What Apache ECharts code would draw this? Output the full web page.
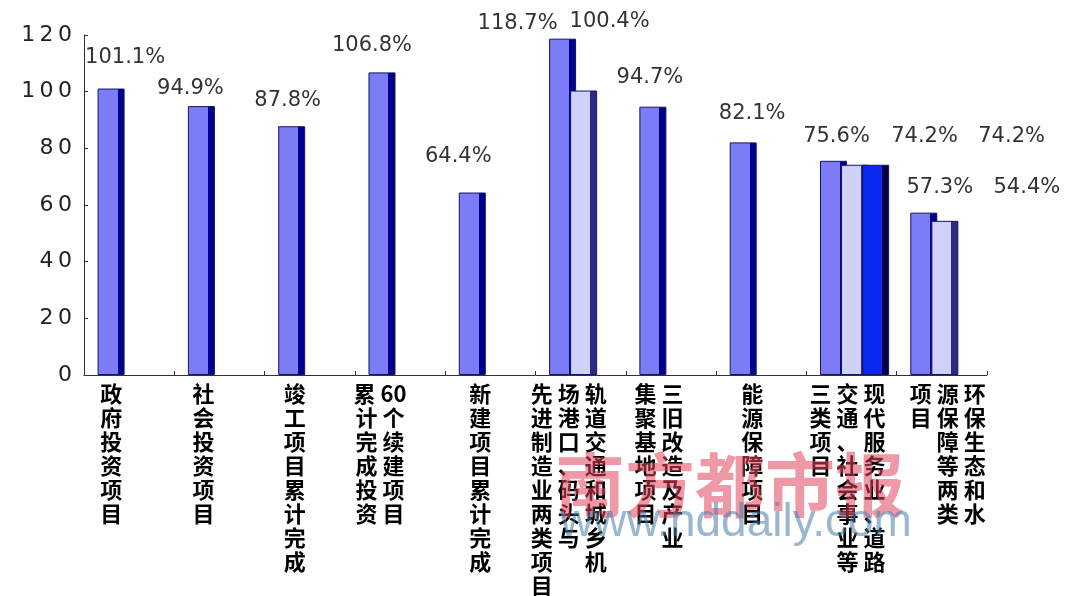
<!DOCTYPE html>
<html>
<head>
<meta charset="utf-8">
<script src="https://cdn.jsdelivr.net/npm/echarts@6/dist/echarts.min.js"></script>
<style>
html,body{margin:0;padding:0;background:#fff;}
#chart{width:1071px;height:596px;}
</style>
</head>
<body>
<div id="chart"></div>
<script>
// ---- data ----
// category label columns, displayed left to right (read right to left)
const categoryColumns = [
  ['政府投资项目'],
  ['社会投资项目'],
  ['竣工项目累计完成'],
  ['累计完成投资', '60个续建项目'],
  ['新建项目累计完成'],
  ['先进制造业两类项目', '场港口、码头与', '轨道交通和城乡机'],
  ['集聚基地项目', '三旧改造及产业'],
  ['能源保障项目'],
  ['三类项目', '交通、社会事业等', '现代服务业、道路'],
  ['项目', '源保障等两类', '环保生态和水']
];
const categories = categoryColumns.map(c => c.slice().reverse().join(''));
const seriesA = [101.1, 94.9, 87.8, 106.8, 64.4, 118.7, 94.7, 82.1, 75.6, 57.3];
const seriesB = [null, null, null, null, null, 100.4, null, null, 74.2, 54.4];
const seriesC = [null, null, null, null, null, null, null, null, 74.2, null];
const yTicks = [0, 20, 40, 60, 80, 100, 120];

// ---- layout ----
const labelShift = [-18, -16, -15, -20, -10, -12, -12, -9, -4, 6];
const offA = [[14,-16],[-11,-2],[-4,-10],[-10,-11],[-14,-20],[-45,0],[-3,-14],[9,-13],[3,-9],[16,-10]];
const offB = [null,null,null,null,null,[26,-53],null,null,[70,-13],[82,-18]];
const offC = [null,null,null,null,null,null,null,null,[136,-13],null];

function grad(front, side) {
  return new echarts.graphic.LinearGradient(0, 0, 1, 0, [
    {offset: 0, color: front}, {offset: 0.74, color: front},
    {offset: 0.74, color: side}, {offset: 1, color: side}
  ]);
}
function items(vals, offs) {
  return vals.map((v, i) => v == null ? null : {value: v, label: {offset: offs[i]}});
}
const rich = {};
labelShift.forEach((d, i) => {
  rich['c' + i] = {
    fontSize: 22, lineHeight: 24, color: '#000', fontWeight: 'bold',
    fontFamily: '"Noto Sans CJK SC", sans-serif',
    padding: d < 0 ? [0, -2 * d, 0, 0] : [0, 0, 0, 2 * d]
  };
});
function catLabel(value, index) {
  const cols = categoryColumns[index].map(s => s.match(/\d+|./gu));
  const n = Math.max(...cols.map(c => c.length));
  const lines = [];
  for (let j = 0; j < n; j++) {
    lines.push('{c' + index + '|' + cols.map(c => c[j] || '\u3000').join(' ') + '}');
  }
  return lines.join('\n');
}
const pctLabel = {
  show: true, position: 'top', distance: 5,
  formatter: p => p.value + '%',
  fontFamily: '"DejaVu Sans", sans-serif', fontSize: 21, color: '#333'
};
const barBase = {
  type: 'bar', xAxisIndex: 0, yAxisIndex: 0, barWidth: 27, barGap: '-22%',
  label: pctLabel
};

const chart = echarts.init(document.getElementById('chart'), null, {renderer: 'canvas'});
chart.setOption({
  backgroundColor: '#fff',
  animation: false,
  grid: [
    {left: 87, top: 35, width: 903, height: 340, outerBoundsMode: 'none', containLabel: false},
    {left: 84, top: 35, width: 903, height: 340, outerBoundsMode: 'none', containLabel: false}
  ],
  xAxis: [
    {type: 'category', gridIndex: 0, data: categories, show: false},
    {type: 'category', gridIndex: 1, data: categories,
     axisLine: {show: true, lineStyle: {color: '#333', width: 1}},
     axisTick: {show: true, inside: true, length: 4, lineStyle: {color: '#333'}},
     axisLabel: {show: true, interval: 0, margin: 7, formatter: catLabel, rich: rich,
                 fontSize: 22, lineHeight: 24, color: '#000', fontFamily: '"Noto Sans CJK SC", sans-serif'},
     splitLine: {show: false}}
  ],
  yAxis: [
    {type: 'value', gridIndex: 0, min: 0, max: 120, interval: 20, show: false},
    {type: 'value', gridIndex: 1, min: 0, max: 120, interval: 20,
     axisLine: {show: true, lineStyle: {color: '#333', width: 1}},
     axisTick: {show: true, inside: true, length: 4, lineStyle: {color: '#333'}},
     splitLine: {show: false},
     axisLabel: {margin: 12, fontSize: 22, color: '#222', fontFamily: '"DejaVu Sans", sans-serif',
                 formatter: v => String(yTicks[yTicks.indexOf(v)]).split('').join('\u2009')}}
  ],
  series: [
    Object.assign({}, barBase, {name: 'A', data: items(seriesA, offA),
      itemStyle: {color: grad('#7c7cf6', '#00008c'), borderColor: '#15155e', borderWidth: 1}}),
    Object.assign({}, barBase, {name: 'B', data: items(seriesB, offB),
      itemStyle: {color: grad('#d0d0f8', '#2b2b86'), borderColor: '#15155e', borderWidth: 1}}),
    Object.assign({}, barBase, {name: 'C', data: items(seriesC, offC),
      itemStyle: {color: grad('#0a28ee', '#00004a'), borderColor: '#15155e', borderWidth: 1}})
  ],
  graphic: [
    {type: 'text', left: 555, top: 450, z: 100, silent: true,
     style: {text: '南方都市报', fontSize: 70, fontWeight: 'bold', fill: 'rgba(226,70,95,0.55)',
             fontFamily: '"Noto Sans CJK SC", sans-serif'}},
    {type: 'text', left: 560, top: 500, z: 100, silent: true,
     style: {text: 'www.nddaily.com', fontSize: 46, fill: 'rgba(70,125,165,0.55)',
             fontFamily: 'Arial, "Liberation Sans", sans-serif'}}
  ]
});
</script>
</body>
</html>
